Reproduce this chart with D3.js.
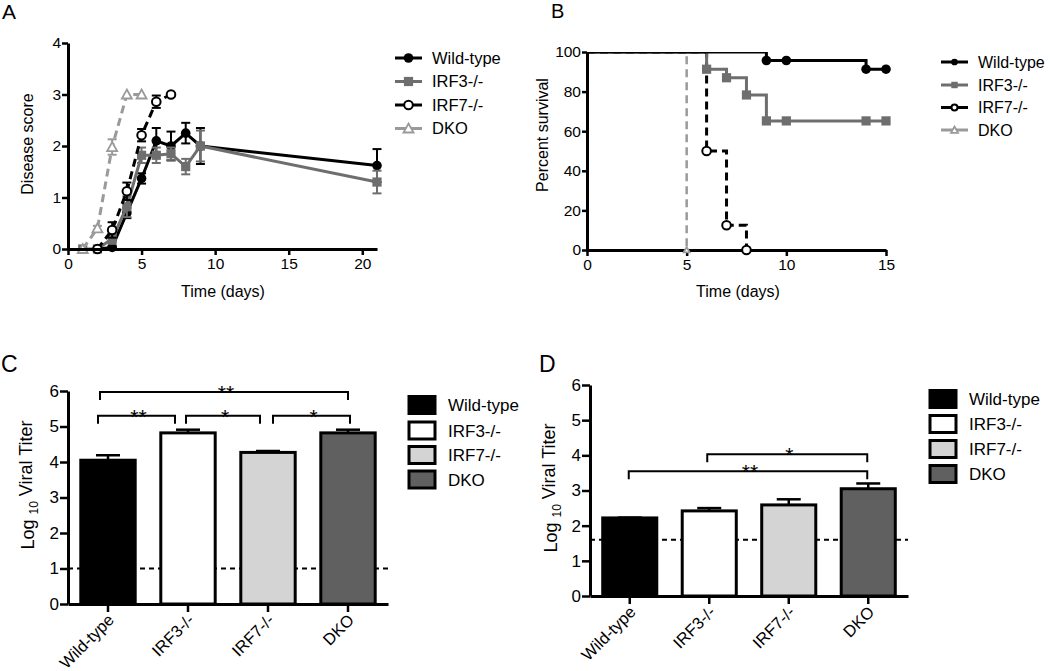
<!DOCTYPE html>
<html><head><meta charset="utf-8">
<script src="https://cdn.jsdelivr.net/npm/d3@7"></script>
<style>
body{margin:0;background:#fff;}
text{font-family:"Liberation Sans",Arial,Helvetica,sans-serif;fill:#000;}
</style></head><body>
<svg id="chart" width="1050" height="671"></svg>
<script>
// ---------- DATA ----------
const groups = ["Wild-type", "IRF3-/-", "IRF7-/-", "DKO"];

// Panel A: disease score over time
const aWtDays   = [2, 3, 4, 5, 6, 7, 8, 9, 21];
const aWtScore  = [0, 0.03, 0.7, 1.37, 2.1, 2.0, 2.25, 2.0, 1.62];
const aWtErr    = [0, 0.02, 0.1, 0.1, 0.25, 0.28, 0.2, 0.35, 0.32];
const aIrf3Days  = [1, 2, 3, 4, 5, 6, 7, 8, 9, 21];
const aIrf3Score = [0, 0, 0.2, 0.82, 1.82, 1.82, 1.85, 1.6, 2.0, 1.3];
const aIrf3Err   = [0, 0, 0.1, 0.2, 0.15, 0.15, 0.12, 0.15, 0.3, 0.22];
const aIrf7Days  = [2, 3, 4, 5, 6, 7];
const aIrf7Score = [0, 0.37, 1.12, 2.21, 2.86, 3.0];
const aIrf7Err   = [0, 0.15, 0.17, 0.12, 0.12, 0];
const aDkoDays   = [1, 2, 3, 4, 5];
const aDkoScore  = [0, 0.4, 1.98, 3.0, 3.0];
const aDkoErr    = [0, 0.05, 0.15, 0, 0];
const aXTicks = [0, 5, 10, 15, 20];
const aYTicks = [0, 1, 2, 3, 4];

// Panel B: percent survival
const bWtDays   = [0, 9, 10, 14, 15];
const bWtSurv   = [100, 95.7, 95.7, 91.3, 91.3];
const bIrf3Days = [0, 6, 7, 8, 9, 10, 14, 15];
const bIrf3Surv = [100, 91.3, 87, 78.3, 65.2, 65.2, 65.2, 65.2];
const bIrf7Days = [0, 6, 7, 8];
const bIrf7Surv = [100, 50, 12.5, 0];
const bDkoDays  = [0, 5];
const bDkoSurv  = [100, 0];
const bXTicks = [0, 5, 10, 15];
const bYTicks = [0, 20, 40, 60, 80, 100];

// Panel C: lung viral titer
const cTiter = [4.05, 4.82, 4.27, 4.82];
const cErr   = [0.14, 0.09, 0.04, 0.09];
const cLimit = 1;
const cBrackets = [
  ["Wild-type", "DKO", 5.97, "**"],
  ["Wild-type", "IRF3-/-", 5.3, "**"],
  ["IRF3-/-", "IRF7-/-", 5.3, "*"],
  ["IRF7-/-", "DKO", 5.3, "*"]
];

// Panel D: brain viral titer
const dTiter = [2.22, 2.42, 2.59, 3.05];
const dErr   = [0.01, 0.08, 0.16, 0.15];
const dLimit = 1.6;
const dBrackets = [
  ["IRF3-/-", "DKO", 4.03, "*"],
  ["Wild-type", "DKO", 3.55, "**"]
];
const titerTicks = [0, 1, 2, 3, 4, 5, 6];

// ---------- STYLE ----------
const grayDark = "#6e6e6e", grayLight = "#9a9a9a";
const lineStyles = [
  {color: "#000", dash: null, marker: "circleFilled"},
  {color: grayDark, dash: null, marker: "square"},
  {color: "#000", dash: "8,5", marker: "circleOpen"},
  {color: grayLight, dash: "8,5", marker: "triangle"}
];
const barFills = ["#000", "#fff", "#d4d4d4", "#606060"];
const fmt = d3.format("d");

const svg = d3.select("#chart");
svg.append("rect").attr("width", 1050).attr("height", 671).attr("fill", "#fff");

function styleAxis(g, fs) {
  g.select(".domain").attr("stroke", "#000").attr("stroke-width", 3);
  g.selectAll(".tick line").attr("stroke", "#000").attr("stroke-width", 2.5);
  g.selectAll(".tick text").style("font-size", fs + "px").attr("fill", "#000")
    .style("font-family", '"Liberation Sans",Arial,sans-serif');
}

function drawMarker(g, type, cx, cy, color, s) {
  s = s || 1;
  if (type === "circleFilled") {
    g.append("circle").attr("cx", cx).attr("cy", cy).attr("r", 4.8 * s).attr("fill", color);
  } else if (type === "circleOpen") {
    g.append("circle").attr("cx", cx).attr("cy", cy).attr("r", 4.3 * s)
      .attr("fill", "#fff").attr("stroke", color).attr("stroke-width", 2);
  } else if (type === "square") {
    const h = 4.6 * s;
    g.append("rect").attr("x", cx - h).attr("y", cy - h).attr("width", 2 * h).attr("height", 2 * h).attr("fill", color);
  } else if (type === "triangle") {
    const h = 5 * s;
    g.append("path").attr("d", `M${cx},${cy - h}L${cx + h},${cy + h * 0.8}L${cx - h},${cy + h * 0.8}Z`)
      .attr("fill", "#fff").attr("stroke", color).attr("stroke-width", 1.8);
  }
}

function lineLegend(x0, rows, fs, ms) {
  const g = svg.append("g");
  groups.forEach((name, i) => {
    const st = lineStyles[i];
    const y = rows[i];
    g.append("line").attr("x1", x0).attr("x2", x0 + 27).attr("y1", y).attr("y2", y)
      .attr("stroke", st.color).attr("stroke-width", 3);
    drawMarker(g, st.marker, x0 + 13.5, y, st.color, ms);
    g.append("text").attr("x", x0 + 37).attr("y", y).attr("dy", "0.36em")
      .style("font-size", fs + "px").text(name);
  });
}

// ---------- PANEL A ----------
(function () {
  const x = d3.scaleLinear().domain([0, 21]).range([68, 377]);
  const y = d3.scaleLinear().domain([0, 4]).range([249, 43]);
  const g = svg.append("g");
  g.append("text").attr("x", 2).attr("y", 19).style("font-size", "21px").text("A");

  const series = [
    [aWtDays, aWtScore, aWtErr],
    [aIrf3Days, aIrf3Score, aIrf3Err],
    [aIrf7Days, aIrf7Score, aIrf7Err],
    [aDkoDays, aDkoScore, aDkoErr]
  ];
  const line = d3.line().x(d => x(d[0])).y(d => y(d[1]));
  series.forEach((s, i) => {
    const st = lineStyles[i];
    const pts = s[0].map((d, j) => [d, s[1][j], s[2][j]]);
    const sg = g.append("g");
    pts.forEach(p => {
      if (p[2] > 0) {
        sg.append("line").attr("x1", x(p[0])).attr("x2", x(p[0]))
          .attr("y1", y(p[1] - p[2])).attr("y2", y(p[1] + p[2]))
          .attr("stroke", st.color).attr("stroke-width", 2);
        [p[1] - p[2], p[1] + p[2]].forEach(v => {
          sg.append("line").attr("x1", x(p[0]) - 4.5).attr("x2", x(p[0]) + 4.5)
            .attr("y1", y(v)).attr("y2", y(v)).attr("stroke", st.color).attr("stroke-width", 2);
        });
      }
    });
    sg.append("path").datum(pts).attr("d", line).attr("fill", "none")
      .attr("stroke", st.color).attr("stroke-width", 3)
      .attr("stroke-dasharray", st.dash);
    pts.forEach(p => drawMarker(sg, st.marker, x(p[0]), y(p[1]), st.color));
  });

  const gx = g.append("g").attr("transform", "translate(0,249)")
    .call(d3.axisBottom(x).tickValues(aXTicks).tickFormat(fmt).tickSize(6).tickSizeOuter(0).tickPadding(3));
  styleAxis(gx, 15.5);
  const gy = g.append("g").attr("transform", "translate(68,0)")
    .call(d3.axisLeft(y).tickValues(aYTicks).tickFormat(fmt).tickSize(6).tickSizeOuter(0).tickPadding(1));
  styleAxis(gy, 15.5);

  g.append("text").attr("x", 223).attr("y", 297).attr("text-anchor", "middle")
    .style("font-size", "16px").text("Time (days)");
  g.append("text").attr("transform", "translate(33,144) rotate(-90)").attr("text-anchor", "middle")
    .style("font-size", "16px").text("Disease score");

  lineLegend(395, [58, 81.5, 105, 128.5], 16.5, 1);
})();

// ---------- PANEL B ----------
(function () {
  const x = d3.scaleLinear().domain([0, 15]).range([587, 886]);
  const y = d3.scaleLinear().domain([0, 100]).range([250, 52]);
  const g = svg.append("g");
  g.append("text").attr("x", 551).attr("y", 18).style("font-size", "20px").text("B");

  svg.append("defs").append("clipPath").attr("id", "clipB")
    .append("rect").attr("x", 580).attr("y", 52).attr("width", 320).attr("height", 210);

  const series = [
    [bWtDays, bWtSurv], [bIrf3Days, bIrf3Surv], [bIrf7Days, bIrf7Surv], [bDkoDays, bDkoSurv]
  ];
  const widths = [3, 3, 3, 2.5];
  const line = d3.line().x(d => x(d[0])).y(d => y(d[1])).curve(d3.curveStepAfter);
  const order = [3, 2, 1, 0];
  order.forEach(i => {
    const s = series[i], st = lineStyles[i];
    const pts = s[0].map((d, j) => [d, s[1][j]]);
    g.append("path").datum(pts).attr("d", line).attr("fill", "none")
      .attr("clip-path", "url(#clipB)")
      .attr("stroke", st.color).attr("stroke-width", widths[i])
      .attr("stroke-dasharray", st.dash);
  });

  const gx = g.append("g").attr("transform", "translate(0,250)")
    .call(d3.axisBottom(x).tickValues(bXTicks).tickFormat(fmt).tickSize(6).tickSizeOuter(0).tickPadding(3));
  styleAxis(gx, 15.5);
  const gy = g.append("g").attr("transform", "translate(587,0)")
    .call(d3.axisLeft(y).tickValues(bYTicks).tickFormat(fmt).tickSize(5).tickSizeOuter(0).tickPadding(1));
  styleAxis(gy, 15.5);

  order.forEach(i => {
    const s = series[i], st = lineStyles[i];
    s[0].forEach((d, j) => {
      if (j === 0) return;
      drawMarker(g, st.marker, x(d), y(s[1][j]), st.color, i === 3 ? 0.6 : 1);
    });
  });

  g.append("text").attr("x", 738).attr("y", 297).attr("text-anchor", "middle")
    .style("font-size", "16px").text("Time (days)");
  g.append("text").attr("transform", "translate(548,135) rotate(-90)").attr("text-anchor", "middle")
    .style("font-size", "16px").text("Percent survival");

  lineLegend(941, [62, 85, 107.5, 130], 16, 0.7);
})();

// ---------- PANELS C & D ----------
function barPanel(opt) {
  const x = d3.scaleBand().domain(groups).range(opt.xr).paddingInner(0.32).paddingOuter(0.16);
  const y = d3.scaleLinear().domain([0, 6]).range(opt.yr);
  const g = svg.append("g");
  const y0 = opt.yr[0];
  g.append("text").attr("x", opt.label[0]).attr("y", opt.label[1]).style("font-size", "23px").text(opt.letter);

  // detection limit
  g.append("line").attr("x1", opt.xr[0]).attr("x2", opt.xr[1])
    .attr("y1", y(opt.limit)).attr("y2", y(opt.limit))
    .attr("stroke", "#000").attr("stroke-width", 2).attr("stroke-dasharray", "5,4");

  groups.forEach((gname, i) => {
    const cx = x(gname) + x.bandwidth() / 2;
    const top = opt.vals[i] + opt.errs[i];
    g.append("line").attr("x1", cx).attr("x2", cx).attr("y1", y(opt.vals[i])).attr("y2", y(top))
      .attr("stroke", "#000").attr("stroke-width", 2.5);
    g.append("line").attr("x1", cx - 12).attr("x2", cx + 12).attr("y1", y(top)).attr("y2", y(top))
      .attr("stroke", "#000").attr("stroke-width", 2.5);
    g.append("rect").attr("x", x(gname)).attr("y", y(opt.vals[i]))
      .attr("width", x.bandwidth()).attr("height", y0 - y(opt.vals[i]))
      .attr("fill", barFills[i]).attr("stroke", "#000").attr("stroke-width", 3);
  });

  const gx = g.append("g").attr("transform", `translate(0,${y0})`)
    .call(d3.axisBottom(x).tickSize(8).tickSizeOuter(0).tickFormat(""));
  styleAxis(gx, 15);
  const gy = g.append("g").attr("transform", `translate(${opt.xr[0]},0)`)
    .call(d3.axisLeft(y).tickValues(titerTicks).tickFormat(fmt).tickSize(8).tickSizeOuter(0).tickPadding(1));
  styleAxis(gy, 17);

  groups.forEach(gname => {
    const cx = x(gname) + x.bandwidth() / 2;
    g.append("text").attr("transform", `translate(${cx + 3},${y0 + 13}) rotate(-45)`)
      .attr("text-anchor", "end").attr("dy", "0.35em").style("font-size", "16.5px").text(gname);
  });

  // significance brackets
  opt.brackets.forEach((b, k) => {
    const dx = opt.bracketDx[k];
    const x1 = x(b[0]) + x.bandwidth() / 2 + dx[0];
    const x2 = x(b[1]) + x.bandwidth() / 2 + dx[1];
    const yb = y(b[2]);
    const leg = 8;
    g.append("path").attr("d", `M${x1},${yb + leg}V${yb}H${x2}V${yb + leg}`)
      .attr("fill", "none").attr("stroke", "#000").attr("stroke-width", 2);
    g.append("text").attr("x", (x1 + x2) / 2 + 2).attr("y", yb + 8).attr("text-anchor", "middle")
      .style("font-size", "21px").text(b[3]);
  });

  // y title with subscript
  const t = g.append("text").attr("transform", `translate(${opt.ytitle[0]},${opt.ytitle[1]}) rotate(-90)`)
    .attr("text-anchor", "middle").style("font-size", "18px");
  t.append("tspan").text("Log ");
  t.append("tspan").attr("dy", "0.35em").style("font-size", "12px").text("10");
  t.append("tspan").attr("dy", "-0.35em").text(" Viral Titer");

  // legend
  groups.forEach((gname, i) => {
    const ry = opt.legRows[i];
    g.append("rect").attr("x", opt.legX).attr("y", ry - 8.5).attr("width", 26).attr("height", 17)
      .attr("fill", barFills[i]).attr("stroke", "#000").attr("stroke-width", 3);
    g.append("text").attr("x", opt.legX + 39).attr("y", ry).attr("dy", "0.36em")
      .style("font-size", "17px").text(gname);
  });
}

barPanel({
  letter: "C", label: [1, 372], xr: [68, 388], yr: [604, 391],
  vals: cTiter, errs: cErr, limit: cLimit, brackets: cBrackets,
  bracketDx: [[-8, 0], [-10, -13], [-2, -8], [5, 2]],
  ytitle: [34, 485], legX: 409, legRows: [405, 430.5, 455, 479.5]
});
barPanel({
  letter: "D", label: [539, 372], xr: [590, 908], yr: [596, 385],
  vals: dTiter, errs: dErr, limit: dLimit, brackets: dBrackets,
  bracketDx: [[-2, -1], [-1, -1]],
  ytitle: [557, 488], legX: 930, legRows: [399, 424, 449, 474]
});
</script>
</body></html>
